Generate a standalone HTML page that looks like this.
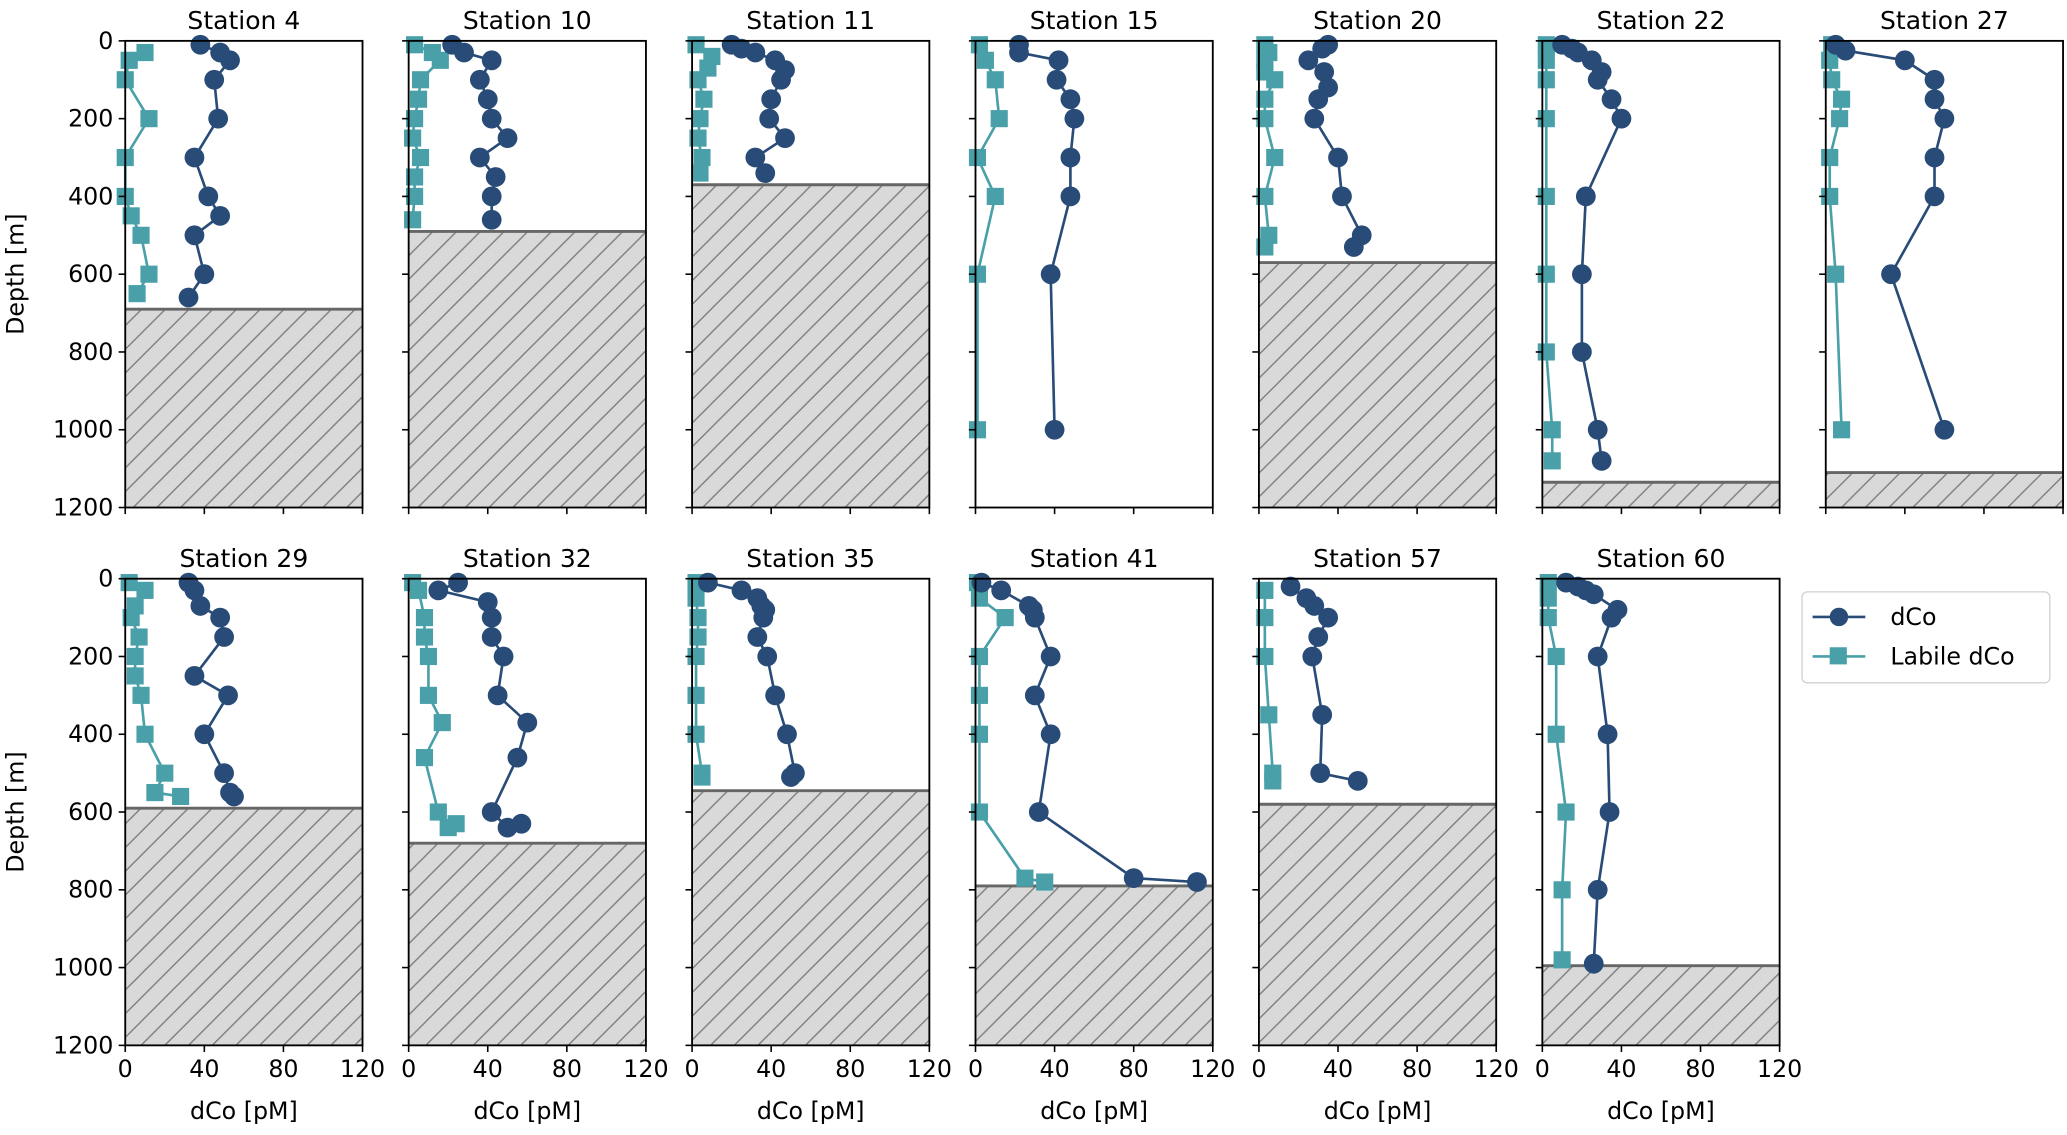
<!DOCTYPE html>
<html><head><meta charset="utf-8">
<style>
html,body{margin:0;padding:0;background:#fff;}
svg{display:block;font-family:"DejaVu Sans","Liberation Sans",sans-serif;}
</style></head>
<body>
<svg id="chart" width="2067" height="1135" viewBox="0 0 1568 861" xmlns="http://www.w3.org/2000/svg">
<defs>
<pattern id="hatch" patternUnits="userSpaceOnUse" width="18" height="18">
<rect width="18" height="18" fill="#d9d9d9"/>
<path d="M-2,20 L20,-2 M-2,2 L2,-2 M16,20 L20,16" stroke="#7a7a7a" stroke-width="1"/>
</pattern>
</defs>
<g id="panels"></g>
<g id="legend">
<rect x="1367" y="449" width="188" height="69" rx="4" fill="#fff" stroke="#d0d0d0"/>
<g>
<line x1="1375" y1="468" x2="1415" y2="468" stroke="#284c77" stroke-width="2"/>
<circle cx="1395" cy="468" r="7" fill="#284c77"/>
<text x="1434" y="474" font-size="18" fill="#000">dCo</text>
</g>
<g>
<line x1="1375" y1="498" x2="1415" y2="498" stroke="#4aa0a8" stroke-width="2"/>
<rect x="1388" y="491" width="13" height="13" fill="#4aa0a8"/>
<text x="1434" y="504" font-size="18" fill="#000">Labile dCo</text>
</g>
</g>
</svg>
<script>
const stations = ["Station 4","Station 10","Station 11","Station 15","Station 20","Station 22","Station 27","Station 29","Station 32","Station 35","Station 41","Station 57","Station 60"];
const bottomDepths = [690,490,370,null,570,1135,1110,590,680,545,790,580,995];
const dcoDepth = [
[10,30,50,100,200,300,400,450,500,600,660],
[10,30,50,100,150,200,250,300,350,400,460],
[10,20,30,50,75,100,150,200,250,300,340],
[10,30,50,100,150,200,300,400,600,1000],
[10,20,50,80,120,150,200,300,400,500,530],
[10,20,30,50,80,100,150,200,400,600,800,1000,1080],
[10,25,50,100,150,200,300,400,600,1000],
[10,30,70,100,150,250,300,400,500,550,560],
[10,30,60,100,150,200,300,370,460,600,640,630],
[10,30,50,70,80,100,150,200,300,400,500,510],
[10,30,70,80,100,200,300,400,600,770,780],
[20,50,70,100,150,200,350,500,520],
[10,20,30,40,80,100,200,400,600,800,990]
];
const dcoValue = [
[38,48,53,45,47,35,42,48,35,40,32],
[22,28,42,36,40,42,50,36,44,42,42],
[20,25,32,42,47,45,40,39,47,32,37],
[22,22,42,41,48,50,48,48,38,40],
[35,32,25,33,35,30,28,40,42,52,48],
[10,15,18,25,30,28,35,40,22,20,20,28,30],
[5,10,40,55,55,60,55,55,33,60],
[32,35,38,48,50,35,52,40,50,53,55],
[25,15,40,42,42,48,45,60,55,42,50,57],
[8,25,33,35,37,36,33,38,42,48,52,50],
[3,13,27,29,30,38,30,38,32,80,112],
[16,24,28,35,30,27,32,31,50],
[12,18,22,26,38,35,28,33,34,28,26]
];
const labDepth = [
[30,50,100,200,300,400,450,500,600,650],
[10,30,50,100,150,200,250,300,350,400,460],
[10,40,70,100,150,200,250,300,340],
[10,50,100,200,300,400,600,1000],
[10,30,50,80,100,150,200,300,400,500,530],
[10,50,100,200,400,600,800,1000,1080],
[10,50,100,150,200,300,400,600,1000],
[10,30,70,100,150,200,250,300,400,500,550,560],
[10,30,100,150,200,300,370,460,600,640,630],
[10,50,100,150,200,300,400,500,510],
[10,50,100,200,300,400,600,770,780],
[30,100,200,350,500,520],
[10,50,100,200,400,600,800,980]
];
const labValue = [
[10,2,0,12,0,0,3,8,12,6],
[3,12,16,6,5,3,2,6,3,3,2],
[2,10,8,3,6,4,3,5,4],
[2,5,10,12,1,10,1,1],
[3,5,3,3,8,3,3,8,3,5,3],
[2,2,2,2,2,2,2,5,5],
[3,2,3,8,7,2,2,5,8],
[2,10,5,3,7,5,5,8,10,20,15,28],
[2,5,8,8,10,10,17,8,15,20,24],
[2,2,3,3,2,2,2,5,5],
[1,2,15,2,2,2,2,25,35],
[3,3,3,5,7,7],
[3,3,3,7,7,12,10,10]
];
const xTicks = [0,40,80,120];
const yTicks = [0,200,400,600,800,1000,1200];

const NS = "http://www.w3.org/2000/svg";
const root = document.getElementById("panels");
function mk(tag, attrs, parent){
  const e = document.createElementNS(NS, tag);
  for (const k in attrs) e.setAttribute(k, attrs[k]);
  parent.appendChild(e);
  return e;
}
const W = 180, rowTop = [31, 439], H = 354;
stations.forEach((name, i) => {
  const row = i < 7 ? 0 : 1;
  const col = i < 7 ? i : i - 7;
  const x0 = 95 + col * 215, y0 = rowTop[row];
  const sx = v => x0 + v / 120 * W;
  const sy = d => y0 + d / 1200 * H;
  const g = mk("g", {}, root);
  
  
  const t = mk("text", {x: x0 + W/2, y: y0 - 9, "text-anchor": "middle", "font-size": 19}, g);
  t.textContent = name;
  
  
  if (bottomDepths[i] !== null) {
    const bd = bottomDepths[i];
    const r = mk("rect", {x: x0, y: sy(bd), width: W, height: y0 + H - sy(bd), fill: "url(#hatch)"}, g);
    
    
    const l = mk("line", {x1: x0, x2: x0 + W, y1: sy(bd), y2: sy(bd), stroke: "#666", "stroke-width": 2.2}, g);
    
    
  }
  const lp = labDepth[i].map((d, k) => sx(labValue[i][k]) + "," + sy(d)).join(" ");
  const ll = mk("polyline", {points: lp, fill: "none", stroke: "#4aa0a8", "stroke-width": 2}, g);
  
  
  labDepth[i].forEach((d, k) => {
    const s = mk("rect", {x: sx(labValue[i][k]) - 6.5, y: sy(d) - 6.5, width: 13, height: 13, fill: "#4aa0a8"}, g);
    
    
  });
  const dp = dcoDepth[i].map((d, k) => sx(dcoValue[i][k]) + "," + sy(d)).join(" ");
  const dl = mk("polyline", {points: dp, fill: "none", stroke: "#284c77", "stroke-width": 2}, g);
  
  
  dcoDepth[i].forEach((d, k) => {
    const c = mk("circle", {cx: sx(dcoValue[i][k]), cy: sy(d), r: 7.5, fill: "#284c77"}, g);
    
    
  });
  const fr = mk("rect", {x: x0, y: y0, width: W, height: H, fill: "none", stroke: "#000", "stroke-width": 1.4}, g);
  
  
  yTicks.forEach(v => {
    const tk = mk("line", {x1: x0 - 5, x2: x0, y1: sy(v), y2: sy(v), stroke: "#000", "stroke-width": 1.2}, g);
    
    
    if (col === 0) {
      const tl = mk("text", {x: x0 - 9, y: sy(v) + 6, "text-anchor": "end", "font-size": 18}, g);
      tl.textContent = v;
      
      
    }
  });
  xTicks.forEach(v => {
    const tk = mk("line", {x1: sx(v), x2: sx(v), y1: y0 + H, y2: y0 + H + 5, stroke: "#000", "stroke-width": 1.2}, g);
    
    
    if (row === 1) {
      const tl = mk("text", {x: sx(v), y: y0 + H + 24, "text-anchor": "middle", "font-size": 18}, g);
      tl.textContent = v;
      
      
    }
  });
  if (row === 1) {
    const xl = mk("text", {x: x0 + W/2, y: y0 + H + 56, "text-anchor": "middle", "font-size": 18}, g);
    xl.textContent = "dCo [pM]";
    
    
  }
  if (col === 0) {
    const yc = y0 + H/2;
    const yl = mk("text", {x: 18, y: yc, "text-anchor": "middle", "font-size": 18, transform: "rotate(-90 18 " + yc + ")"}, g);
    yl.textContent = "Depth [m]";
    
    
  }
});
</script>
</body></html>
